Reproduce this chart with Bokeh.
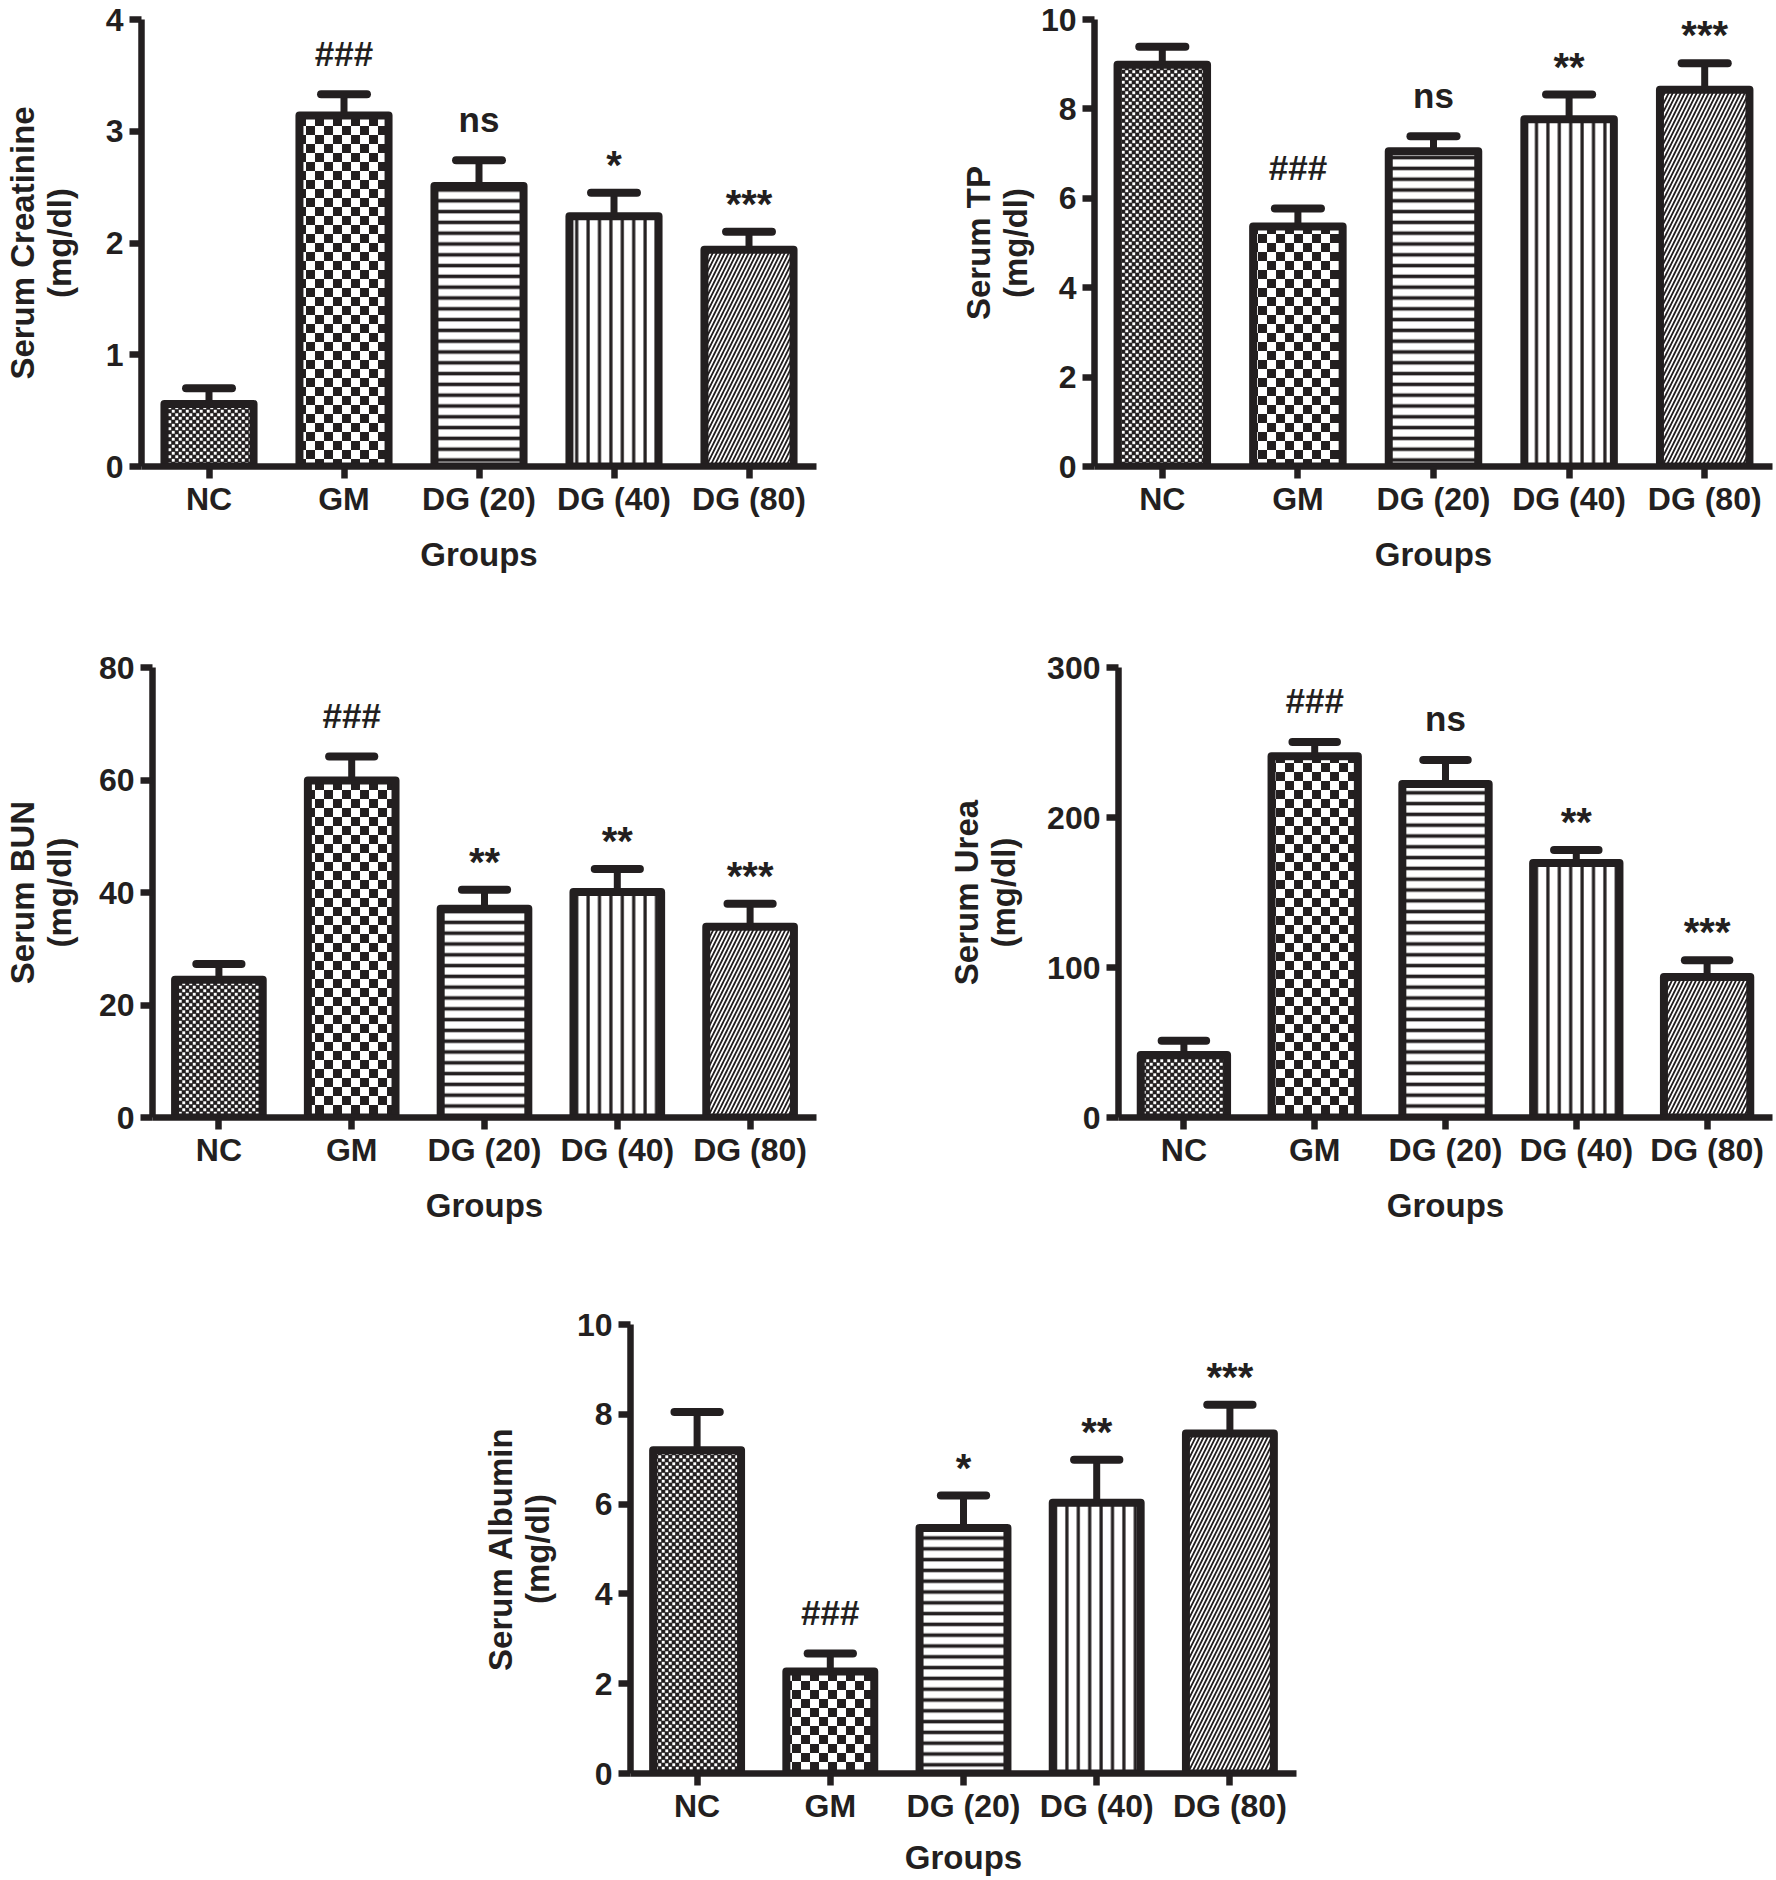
import base64
from bokeh.plotting import figure
from bokeh.models import Range1d, FixedTicker, ImageURLTexture
from bokeh.layouts import column, row
from bokeh.embed import file_html
from bokeh.resources import INLINE
from bokeh.core.properties import value

groups = ["NC", "GM", "DG (20)", "DG (40)", "DG (80)"]

creatinine_mean = [0.56, 3.14, 2.51, 2.24, 1.94]
creatinine_err = [0.14, 0.19, 0.23, 0.21, 0.16]
creatinine_sig = ["", "###", "ns", "*", "***"]
creatinine_ticks = [0, 1, 2, 3, 4]

tp_mean = [8.99, 5.37, 7.05, 7.77, 8.43]
tp_err = [0.40, 0.40, 0.34, 0.55, 0.59]
tp_sig = ["", "###", "ns", "**", "***"]
tp_ticks = [0, 2, 4, 6, 8, 10]

bun_mean = [24.5, 59.9, 37.1, 40.1, 33.9]
bun_err = [2.8, 4.3, 3.4, 4.1, 4.1]
bun_sig = ["", "###", "**", "**", "***"]
bun_ticks = [0, 20, 40, 60, 80]

urea_mean = [41.6, 240.8, 222.4, 169.6, 93.6]
urea_err = [9.6, 9.6, 16.0, 8.8, 11.2]
urea_sig = ["", "###", "ns", "**", "***"]
urea_ticks = [0, 100, 200, 300]

albumin_mean = [7.2, 2.27, 5.47, 6.03, 7.57]
albumin_err = [0.85, 0.40, 0.72, 0.96, 0.64]
albumin_sig = ["", "###", "*", "**", "***"]
albumin_ticks = [0, 2, 4, 6, 8, 10]

INK = "#231f20"
FONT = "Liberation Sans"


def svg_texture(svg):
    url = "data:image/svg+xml;base64," + base64.b64encode(svg.encode()).decode()
    return ImageURLTexture(url=url)


# fine staggered white dots on dark ground
fine_check = svg_texture(
    "<svg xmlns='http://www.w3.org/2000/svg' width='7' height='7'>"
    "<rect width='7' height='7' fill='#231f20'/>"
    "<rect x='0.3' y='0.3' width='2.9' height='2.9' fill='#ffffff'/>"
    "<rect x='3.8' y='3.8' width='2.9' height='2.9' fill='#ffffff'/></svg>")

# coarse checkerboard tile
big_check = svg_texture(
    "<svg xmlns='http://www.w3.org/2000/svg' width='18' height='18'>"
    "<rect width='18' height='18' fill='#ffffff'/>"
    "<rect width='9' height='9' fill='#231f20'/>"
    "<rect x='9' y='9' width='9' height='9' fill='#231f20'/></svg>")

# per-group fill styles
styles = [
    dict(hatch_pattern=dict(value="fine"), hatch_scale=7, hatch_weight=1),
    dict(hatch_pattern=dict(value="big"), hatch_scale=18, hatch_weight=1),
    dict(hatch_pattern="horizontal_line", hatch_scale=10.8, hatch_weight=3.6),
    dict(hatch_pattern="vertical_line", hatch_scale=11.4, hatch_weight=3.2),
    dict(hatch_pattern="right_diagonal_line", hatch_scale=8, hatch_weight=1.8),
]


def panel(ylabel, means, errs, sigs, ticks, width, height, mb, ylab_standoff,
          xlab_standoff=16):
    left, right, top, bottom = mb
    p = figure(width=width, height=height, output_backend="svg",
               toolbar_location=None, tools="",
               x_range=Range1d(-0.5, len(groups) - 0.5),
               y_range=Range1d(ticks[0], ticks[-1]),
               min_border_left=left, min_border_right=right,
               min_border_top=top, min_border_bottom=bottom)
    p.outline_line_color = None
    p.grid.visible = False
    p.background_fill_color = "white"

    idx = list(range(len(groups)))
    for i in idx:
        st = styles[i]
        p.vbar(x=[i], top=[means[i]], bottom=0, width=0.66,
               fill_color="white", line_color=INK, line_width=8,
               line_join="round",
               hatch_color=INK, hatch_alpha=1.0,
               hatch_extra={"fine": fine_check, "big": big_check},
               **st)
    tops = [m + e for m, e in zip(means, errs)]
    p.segment(x0=idx, y0=means, x1=idx, y1=tops, line_color=INK, line_width=7)
    p.segment(x0=[i - 0.17 for i in idx], y0=tops, x1=[i + 0.17 for i in idx],
              y1=tops, line_color=INK, line_width=8, line_cap="round")
    stars = [s.startswith("*") for s in sigs]
    offs = [-28 if st else -41 for st in stars]
    sizes = ["40px" if st else "35px" for st in stars]
    p.text(x=idx, y=tops, text=sigs, y_offset=offs, text_align="center",
           text_baseline="middle", text_font_size=sizes,
           text_font_style="bold", text_color=INK, text_font=value(FONT))

    for ax in (p.xaxis, p.yaxis):
        ax.axis_line_color = INK
        ax.axis_line_width = 6.5
        ax.major_tick_line_color = INK
        ax.major_tick_line_width = 6.5
        ax.major_tick_out = 12
        ax.major_tick_in = 0
        ax.minor_tick_line_color = None
        ax.major_label_text_font = FONT
        ax.major_label_text_font_style = "bold"
        ax.major_label_text_font_size = "32px"
        ax.major_label_text_color = INK
        ax.axis_label_text_font = FONT
        ax.axis_label_text_font_style = "bold"
        ax.axis_label_text_font_size = "33px"
        ax.axis_label_text_color = INK
        ax.axis_label_text_line_height = 1.0

    p.xaxis.ticker = FixedTicker(ticks=idx)
    p.xaxis.major_label_overrides = {i: g for i, g in zip(idx, groups)}
    p.xaxis.major_label_standoff = 2
    p.xaxis.axis_label = "Groups"
    p.xaxis.axis_label_standoff = xlab_standoff

    p.yaxis.ticker = FixedTicker(ticks=ticks)
    p.yaxis.major_label_standoff = 6
    p.yaxis.axis_label = ylabel
    p.yaxis.axis_label_standoff = ylab_standoff
    return p


p1 = panel("Serum Creatinine\n(mg/dl)", creatinine_mean, creatinine_err,
           creatinine_sig, creatinine_ticks, 880, 646, (136, 64, 19, 180), 25)
p2 = panel("Serum TP\n(mg/dl)", tp_mean, tp_err, tp_sig, tp_ticks,
           894, 646, (214, 2, 19, 180), 4)
p3 = panel("Serum BUN\n(mg/dl)", bun_mean, bun_err, bun_sig, bun_ticks,
           880, 648, (150, 64, 21, 177), 18)
p4 = panel("Serum Urea\n(mg/dl)", urea_mean, urea_err, urea_sig, urea_ticks,
           894, 648, (238, 2, 21, 177), 22)
p5 = panel("Serum Albumin\n(mg/dl)", albumin_mean, albumin_err, albumin_sig,
           albumin_ticks, 1316, 584, (630, 20, 30, 104), 18, 12)

page = column(row(p1, p2), row(p3, p4), p5)
open("out.html", "w").write(file_html(page, INLINE))
